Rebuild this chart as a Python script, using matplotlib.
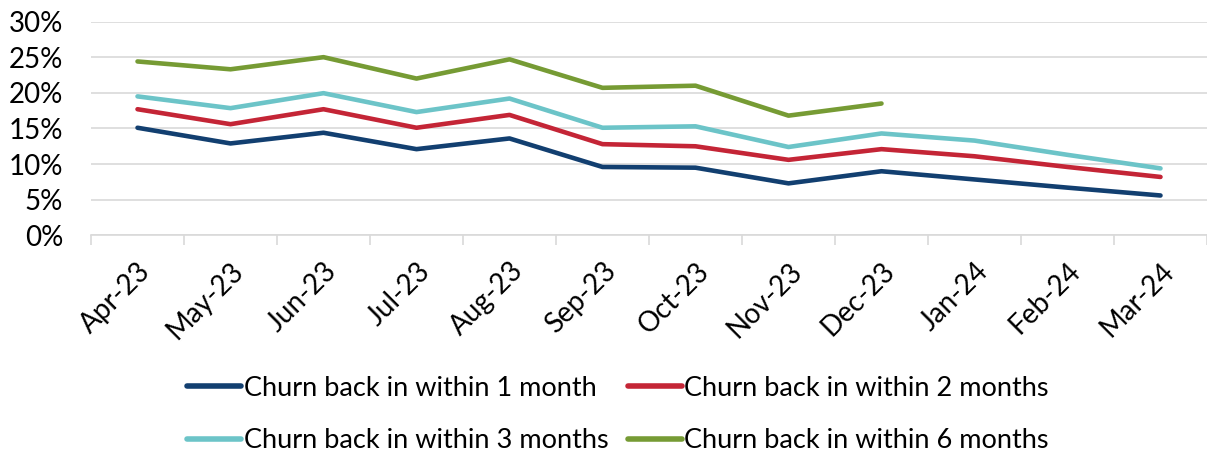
import numpy as np
import matplotlib
matplotlib.use("Agg")
import matplotlib.pyplot as plt
from matplotlib.ticker import FuncFormatter, FixedLocator

plt.rcParams['font.family'] = ['Lato', 'DejaVu Sans']

months = ["Apr-23", "May-23", "Jun-23", "Jul-23", "Aug-23", "Sep-23",
          "Oct-23", "Nov-23", "Dec-23", "Jan-24", "Feb-24", "Mar-24"]
within_1m = [15.1, 12.9, 14.4, 12.1, 13.6, 9.6, 9.5, 7.3, 9.0, 7.85, 6.7, 5.6]
within_2m = [17.7, 15.6, 17.7, 15.1, 16.9, 12.8, 12.5, 10.6, 12.1, 11.1, 9.6, 8.2]
within_3m = [19.5, 17.85, 19.95, 17.3, 19.2, 15.1, 15.3, 12.4, 14.3, 13.3, 11.3, 9.4]
within_6m = [24.4, 23.3, 25.0, 22.0, 24.7, 20.7, 21.0, 16.8, 18.5]

series = [
    ("Churn back in within 1 month", within_1m, "#123f70"),
    ("Churn back in within 2 months", within_2m, "#c42536"),
    ("Churn back in within 3 months", within_3m, "#6cc4c8"),
    ("Churn back in within 6 months", within_6m, "#769b34"),
]

fig = plt.figure(figsize=(12.07, 4.58), dpi=100)
ax = fig.add_axes([0.0754, 0.486, 0.9246, 0.467])

x = np.arange(len(months))
lines = []
for label, vals, color in series:
    ln, = ax.plot(x[:len(vals)], np.array(vals) / 100, color=color, lw=3.3,
                  solid_capstyle="round", solid_joinstyle="round", label=label)
    lines.append(ln)

ax.set_xlim(-0.5, len(months) - 0.5)
ax.set_ylim(0, 0.30)
ax.set_yticks(np.arange(0, 0.31, 0.05))
ax.yaxis.set_major_formatter(FuncFormatter(lambda v, p: f"{v*100:.0f}%"))
ax.grid(axis="y", color="#d9d9d9", lw=1.2)
ax.set_axisbelow(True)

for s in ["top", "right", "left"]:
    ax.spines[s].set_visible(False)
ax.spines["bottom"].set_color("#d9d9d9")
ax.spines["bottom"].set_linewidth(1.2)

ax.set_xticks(x)
ax.set_xticklabels(months, rotation=45, ha="right", rotation_mode="anchor")
ax.xaxis.set_minor_locator(FixedLocator(np.arange(-0.5, len(months), 1)))
ax.tick_params(axis="x", which="major", length=0, pad=16, labelsize=20)
ax.tick_params(axis="x", which="minor", length=7, color="#d9d9d9", width=1.2)
ax.tick_params(axis="y", length=0, pad=20, labelsize=20)

# legend fills column-wise, so reorder to read 1,2 / 3,6 across rows
order = [0, 2, 1, 3]
leg = fig.legend([lines[i] for i in order], [series[i][0] for i in order],
                 loc="center", bbox_to_anchor=(0.512, 0.095), ncol=2,
                 frameon=False, fontsize=19.5, handlelength=2.0,
                 handletextpad=0.1, columnspacing=0.7, labelspacing=1.0)
for h in leg.legend_handles:
    h.set_linewidth(4)

fig.savefig("out.png", dpi=100)
